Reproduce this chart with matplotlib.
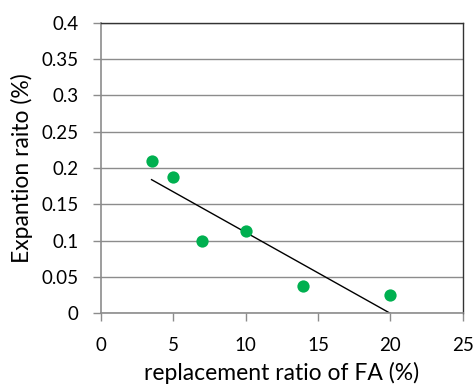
import numpy as np
import matplotlib.pyplot as plt
from matplotlib.ticker import FuncFormatter

# replacement ratio of FA (%) vs expansion ratio (%)
fa_ratio = [3.5, 5, 7, 10, 14, 20]
expansion = [0.21, 0.188, 0.1, 0.113, 0.038, 0.025]

plt.rcParams['font.family'] = ['Lato', 'DejaVu Sans']

fig = plt.figure(figsize=(4.76, 3.89), dpi=100)
ax = fig.add_axes([0.212, 0.195, 0.76, 0.746])

ax.scatter(fa_ratio, expansion, s=78, color='#00B050', zorder=3, linewidths=0)

# linear trend line
k, b = np.polyfit(fa_ratio, expansion, 1)
xs = np.array([min(fa_ratio), max(fa_ratio)])
ax.plot(xs, k * xs + b, color='black', lw=1.0, zorder=2)

ax.set_xlim(0, 25)
ax.set_ylim(0, 0.4)
ax.set_xticks(np.arange(0, 26, 5))
ax.set_yticks(np.arange(0, 0.401, 0.05))
ax.yaxis.set_major_formatter(FuncFormatter(lambda v, p: '%g' % round(v, 2)))
ax.grid(axis='y', color='#8c8c8c', lw=1.0)
ax.set_axisbelow(True)

for s in ['left', 'bottom']:
    ax.spines[s].set_color('#8c8c8c')
    ax.spines[s].set_linewidth(1.2)
for s in ['top', 'right']:
    ax.spines[s].set_color('#333333')
    ax.spines[s].set_linewidth(1.0)
ax.tick_params(direction='out', length=6, width=1, color='#8c8c8c',
               labelsize=13.5)
ax.tick_params(axis='x', pad=11)
ax.tick_params(axis='y', pad=10)

ax.set_xlabel('replacement ratio of FA (%)', fontsize=16.5, labelpad=6)
ax.set_ylabel('Expantion raito (%)', fontsize=16.5, labelpad=6)

fig.savefig('out.png', dpi=100)
